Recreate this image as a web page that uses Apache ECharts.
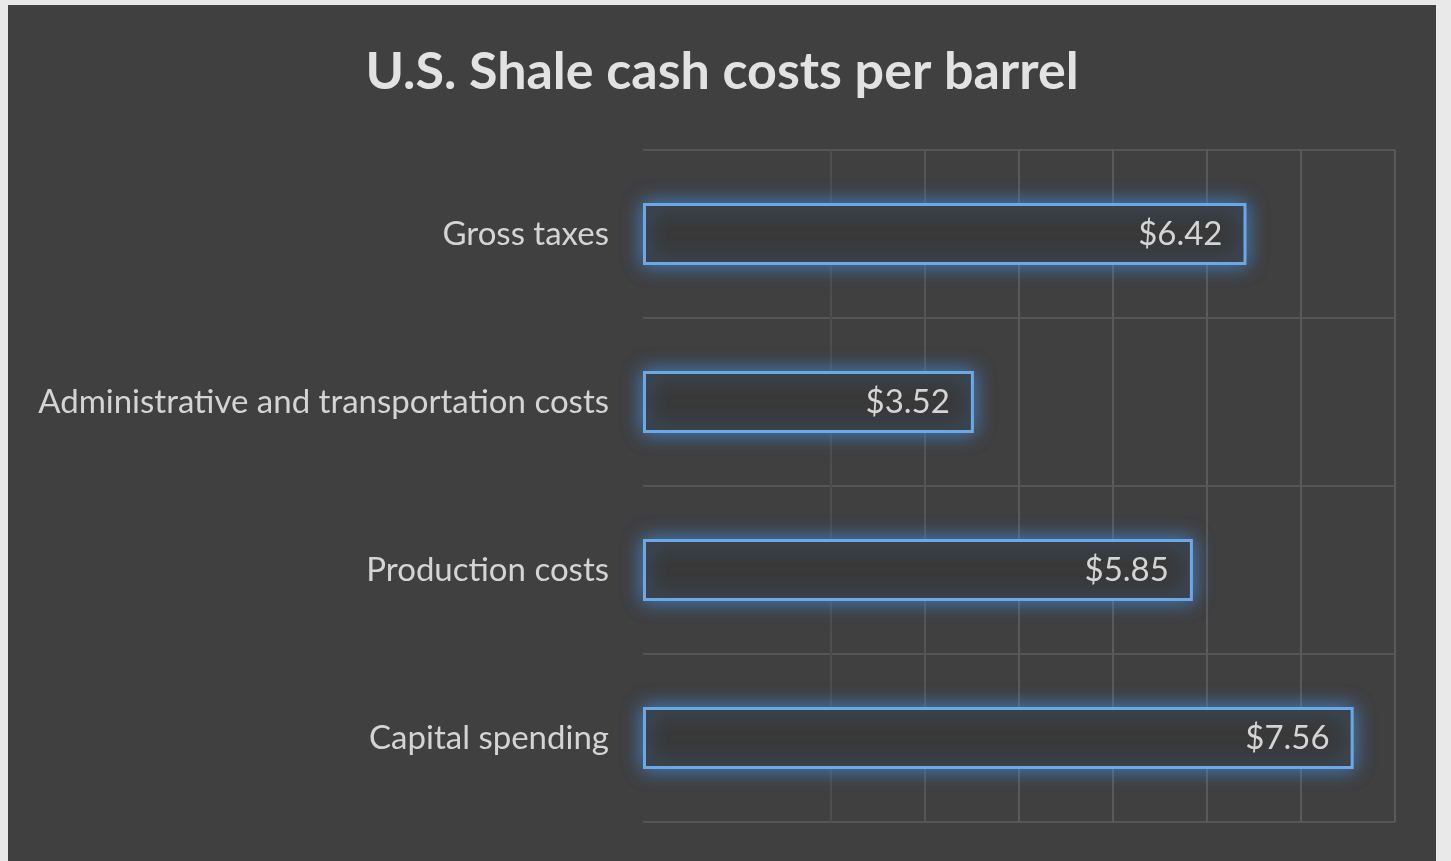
<!DOCTYPE html>
<html>
<head>
<meta charset="utf-8">
<script src="https://cdn.jsdelivr.net/npm/echarts@6/dist/echarts.min.js"></script>
<style>
  html, body { margin: 0; padding: 0; background: #e9e9e9; width: 1451px; height: 861px; overflow: hidden; }
  #chart { position: absolute; left: 8px; top: 5px; width: 1428px; height: 856px; background: #404040; }
</style>
</head>
<body>
<div id="chart"></div>
<script>
// categories top -> bottom as in the picture
const categories = ['Gross taxes', 'Administrative and transportation costs', 'Production costs', 'Capital spending'];
const costs = [6.42, 3.52, 5.85, 7.56];
const axisMax = 8;

const chart = echarts.init(document.getElementById('chart'));

const textColor = '#d4d4d4';
const gridColor = '#5a5a5a';

chart.setOption({
    backgroundColor: '#404040',
    title: {
        text: 'U.S. Shale cash costs per barrel',
        left: 'center',
        top: 36,
        textStyle: { color: '#e2e2e2', fontFamily: 'Lato', fontWeight: 'bold', fontSize: 52 }
    },
    grid: { left: 635, right: 41, top: 145, bottom: 39 },
    xAxis: {
        type: 'value',
        min: 0,
        max: axisMax,
        interval: 1,
        axisLabel: { show: false },
        axisLine: { show: false },
        axisTick: { show: false },
        splitLine: {
            lineStyle: {
                // lines fade out towards the left like in the original
                color: ['rgba(0,0,0,0)', 'rgba(0,0,0,0)', '#4d4d4d', '#555555', gridColor, gridColor, gridColor, gridColor, gridColor],
                width: 2
            }
        }
    },
    yAxis: {
        type: 'category',
        inverse: true,
        data: categories,
        axisLine: { show: false },
        axisTick: { show: false },
        axisLabel: { color: textColor, fontFamily: 'Lato', fontSize: 33, margin: 34, padding: [6, 0, 0, 0] },
        splitLine: { show: true, lineStyle: { color: '#555555', width: 2 } }
    },
    series: [{
        type: 'bar',
        data: costs,
        barWidth: 62,
        itemStyle: {
            color: '#393939',
            borderColor: '#6ba8e5',
            borderWidth: 3,
            shadowBlur: 20,
            shadowColor: 'rgba(70,140,215,0.9)'
        },
        label: {
            show: true,
            position: 'insideRight',
            distance: 24,
            color: textColor,
            fontFamily: 'Lato',
            fontSize: 33,
            padding: [6, 0, 0, 0],
            formatter: p => '$' + p.value.toFixed(2)
        },
        silent: true
    }]
});
</script>
</body>
</html>
